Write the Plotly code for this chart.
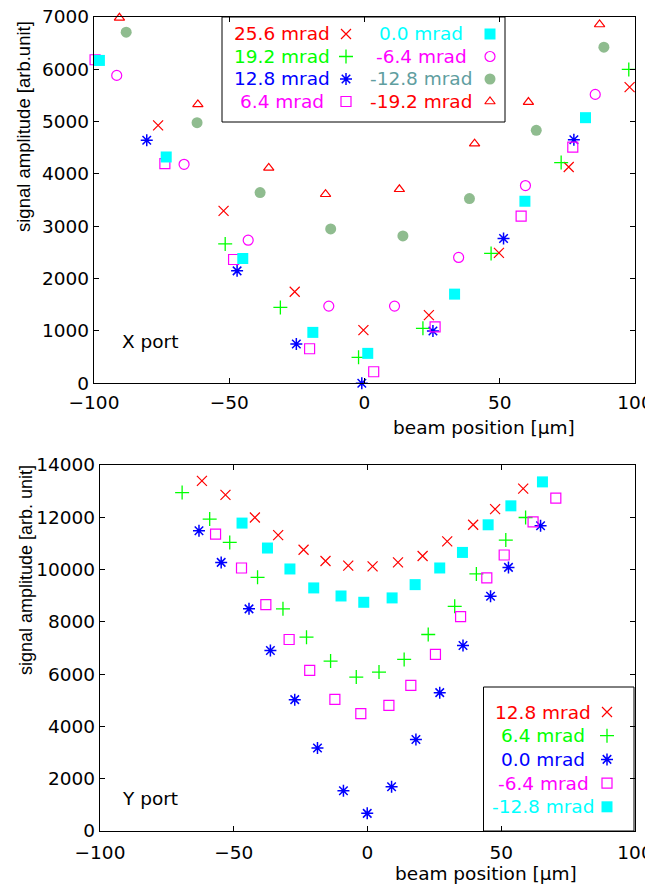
import plotly.graph_objects as go

# page has an 8px body margin; the figure fills the rest of the 653x886 window
OFF = 8
W, H = 653 - OFF, 886 - OFF

# ---------------- X port data ----------------
x_labels = ["25.6 mrad", "19.2 mrad", "12.8 mrad", "6.4 mrad",
            "0.0 mrad", "-6.4 mrad", "-12.8 mrad", "-19.2 mrad"]

xp_256_x = [-76.3, -52.1, -25.8, -0.4, 23.8, 49.7, 75.5, 98.0]
xp_256_y = [4930, 3295, 1750, 1017, 1303, 2493, 4134, 5660]

xp_192_x = [-51.5, -31.1, -2.2, 21.6, 46.8, 72.7, 97.7]
xp_192_y = [2664, 1450, 496, 1050, 2481, 4218, 5998]

xp_128_x = [-80.5, -47.1, -25.2, -1.0, 25.3, 51.4, 77.4]
xp_128_y = [4643, 2149, 750, 0, 998, 2767, 4656]

xp_64_x = [-99.6, -73.8, -48.4, -20.3, 3.4, 26.1, 57.9, 77.0]
xp_64_y = [6183, 4198, 2366, 660, 221, 1080, 3193, 4515]

xp_00_x = [-98.0, -73.3, -45.0, -19.1, 1.2, 33.3, 59.3, 81.7]
xp_00_y = [6170, 4325, 2385, 973, 572, 1704, 3479, 5076]

xp_m64_x = [-91.6, -66.7, -43.0, -13.2, 11.1, 34.8, 59.5, 85.3]
xp_m64_y = [5884, 4185, 2735, 1475, 1475, 2405, 3779, 5521]

xp_m128_x = [-88.1, -61.9, -38.6, -12.5, 14.2, 38.8, 63.5, 88.5]
xp_m128_y = [6710, 4981, 3645, 2950, 2817, 3531, 4834, 6424]

xp_m192_x = [-90.6, -61.6, -35.4, -14.4, 12.9, 40.7, 60.6, 86.9]
xp_m192_y = [6985, 5330, 4115, 3613, 3708, 4580, 5374, 6857]

# ---------------- Y port data ----------------
y_labels = ["12.8 mrad", "6.4 mrad", "0.0 mrad", "-6.4 mrad", "-12.8 mrad"]

yp_128_x = [-61.9, -53.1, -42.1, -33.4, -23.9, -15.7, -7.2, 1.9, 11.4, 20.6, 29.8, 39.5, 47.7, 58.2]
yp_128_y = [13392, 12857, 11992, 11320, 10759, 10328, 10149, 10122, 10275, 10519, 11076, 11713, 12312, 13098]

yp_64_x = [-69.3, -59.0, -51.5, -41.1, -31.6, -22.8, -13.8, -4.2, 4.3, 13.7, 22.7, 32.6, 40.7, 51.7, 59.1]
yp_64_y = [12946, 11930, 11038, 9703, 8497, 7413, 6498, 5887, 6078, 6562, 7516, 8596, 9832, 11129, 11992]

yp_00_x = [-63.0, -54.7, -44.3, -36.3, -27.2, -18.7, -9.0, -0.1, 9.0, 18.1, 27.0, 35.7, 46.0, 52.7, 64.7]
yp_00_y = [11484, 10275, 8497, 6906, 5025, 3178, 1538, 675, 1690, 3498, 5292, 7097, 8978, 10084, 11675]

yp_m64_x = [-56.8, -47.1, -38.0, -29.3, -21.6, -12.2, -2.5, 8.0, 16.2, 25.4, 34.8, 44.6, 51.1, 61.9, 70.4]
yp_m64_y = [11358, 10061, 8661, 7325, 6143, 5036, 4490, 4807, 5570, 6753, 8203, 9680, 10557, 11828, 12731]

yp_m128_x = [-46.9, -37.4, -29.0, -20.1, -9.9, -1.4, 9.2, 17.8, 27.0, 35.5, 45.1, 53.6, 65.4]
yp_m128_y = [11778, 10824, 10023, 9298, 8990, 8749, 8916, 9424, 10061, 10656, 11713, 12438, 13354]

x_ticks = [-100, -50, 0, 50, 100]
top_y_ticks = [0, 1000, 2000, 3000, 4000, 5000, 6000, 7000]
bot_y_ticks = [0, 2000, 4000, 6000, 8000, 10000, 12000, 14000]

# ---------------- styles ----------------
RED, GREEN, BLUE, MAG, CYAN = "#ff0000", "#00ff00", "#0000ff", "#ff00ff", "#00ffff"
SEAG = "#8fbc8f"
CADET = "#5f9ea0"
FONT = "DejaVu Sans"

top_series = [
    (xp_256_x, xp_256_y, dict(symbol="x-thin-open", size=10, color=RED, line=dict(color=RED, width=1.2)), RED),
    (xp_192_x, xp_192_y, dict(symbol="cross-thin-open", size=10, color=GREEN, line=dict(color=GREEN, width=1.3)), GREEN),
    (xp_128_x, xp_128_y, dict(symbol="asterisk-open", size=10, color=BLUE, line=dict(color=BLUE, width=1.5)), BLUE),
    (xp_64_x, xp_64_y, dict(symbol="square-open", size=10, color=MAG, line=dict(color=MAG, width=1.2)), MAG),
    (xp_00_x, xp_00_y, dict(symbol="square", size=11, color=CYAN, line=dict(width=0)), CYAN),
    (xp_m64_x, xp_m64_y, dict(symbol="circle-open", size=10, color=MAG, line=dict(color=MAG, width=1.2)), MAG),
    (xp_m128_x, xp_m128_y, dict(symbol="circle", size=11, color=SEAG, line=dict(width=0)), CADET),
    (xp_m192_x, xp_m192_y, dict(symbol="triangle-up-open", size=9, color=RED, line=dict(color=RED, width=1.2)), RED),
]

bot_series = [
    (yp_128_x, yp_128_y, dict(symbol="x-thin-open", size=10, color=RED, line=dict(color=RED, width=1.2)), RED),
    (yp_64_x, yp_64_y, dict(symbol="cross-thin-open", size=10, color=GREEN, line=dict(color=GREEN, width=1.3)), GREEN),
    (yp_00_x, yp_00_y, dict(symbol="asterisk-open", size=10, color=BLUE, line=dict(color=BLUE, width=1.5)), BLUE),
    (yp_m64_x, yp_m64_y, dict(symbol="square-open", size=10, color=MAG, line=dict(color=MAG, width=1.2)), MAG),
    (yp_m128_x, yp_m128_y, dict(symbol="square", size=11, color=CYAN, line=dict(width=0)), CYAN),
]

fig = go.Figure()

for (xs, ys, mk, _), name in zip(top_series, x_labels):
    fig.add_trace(go.Scatter(x=xs, y=ys, mode="markers", marker=mk, name=name,
                             xaxis="x", yaxis="y", cliponaxis=False, showlegend=False))
for (xs, ys, mk, _), name in zip(bot_series, y_labels):
    fig.add_trace(go.Scatter(x=xs, y=ys, mode="markers", marker=mk, name=name,
                             xaxis="x2", yaxis="y2", cliponaxis=False, showlegend=False))


# window-pixel -> paper coordinates
def px(x):
    return (x - OFF) / W


def py(y):
    return 1 - (y - OFF) / H


annotations = []
shapes = []


def add_leg_item(label, color, mk, tx, mx, y):
    annotations.append(dict(text=label, x=px(tx), y=py(y), xref="paper", yref="paper",
                            xanchor="center", yanchor="middle", showarrow=False,
                            font=dict(family=FONT, size=18.5, color=color)))
    fig.add_trace(go.Scatter(x=[mx], y=[y], mode="markers", marker=mk, xaxis="x3", yaxis="y3",
                             cliponaxis=False, showlegend=False, hoverinfo="skip"))


for i, ((_, _, mk, tcol), label) in enumerate(zip(top_series, x_labels)):
    col, row = divmod(i, 4)
    ty = 34 + 22.5 * row
    if col == 0:
        add_leg_item(label, tcol, mk, 282, 346, ty)
    else:
        add_leg_item(label, tcol, mk, 421, 490, ty)

for i, ((_, _, mk, tcol), label) in enumerate(zip(bot_series, y_labels)):
    ty = 712 + 23.7 * i
    add_leg_item(label, tcol, mk, 543, 607, ty)

shapes.append(dict(type="rect", xref="paper", yref="paper", x0=px(222), x1=px(505),
                   y0=py(122), y1=py(17), line=dict(color="black", width=1)))
shapes.append(dict(type="rect", xref="paper", yref="paper", x0=px(483.5), x1=px(634),
                   y0=py(831), y1=py(687), line=dict(color="black", width=1)))

annotations += [
    dict(text="beam position [µm]", x=px(484), y=py(428), xref="paper", yref="paper",
         showarrow=False, xanchor="center", yanchor="middle",
         font=dict(family=FONT, size=18.5, color="black")),
    dict(text="beam position [µm]", x=px(486), y=py(873), xref="paper", yref="paper",
         showarrow=False, xanchor="center", yanchor="middle",
         font=dict(family=FONT, size=18.5, color="black")),
    dict(text="signal amplitude [arb.unit]", x=px(23), y=py(127), xref="paper", yref="paper",
         showarrow=False, textangle=-90, xanchor="center", yanchor="middle",
         font=dict(family="Liberation Sans", size=18.5, color="black")),
    dict(text="signal amplitude [arb. unit]", x=px(26), y=py(570), xref="paper", yref="paper",
         showarrow=False, textangle=-90, xanchor="center", yanchor="middle",
         font=dict(family="Liberation Sans", size=18, color="black")),
    dict(text="X port", x=px(120), y=py(342), xref="paper", yref="paper",
         showarrow=False, xanchor="left", yanchor="middle",
         font=dict(family=FONT, size=18.5, color="black")),
    dict(text="Y port", x=px(120), y=py(798), xref="paper", yref="paper",
         showarrow=False, xanchor="left", yanchor="middle",
         font=dict(family=FONT, size=18.5, color="black")),
]

axis_common = dict(showline=True, linecolor="black", linewidth=1.3, mirror="ticks",
                   ticks="inside", ticklen=5, tickwidth=1, tickcolor="black",
                   showgrid=False, zeroline=False, automargin=False, tickformat="d",
                   ticklabeloverflow="allow",
                   tickfont=dict(family=FONT, size=18.5, color="black"))

fig.update_layout(
    width=W, height=H,
    margin=dict(l=0, r=0, t=0, b=0, autoexpand=False),
    paper_bgcolor="white", plot_bgcolor="rgba(0,0,0,0)",
    showlegend=False,
    xaxis=dict(domain=[px(94), px(635)], range=[-100, 100], tickvals=x_ticks,
               anchor="y", ticklabelstandoff=2, **axis_common),
    yaxis=dict(domain=[py(383.3), py(17)], range=[0, 7000], tickvals=top_y_ticks,
               anchor="x", **axis_common),
    xaxis2=dict(domain=[px(100), px(635)], range=[-100, 100], tickvals=x_ticks,
                anchor="y2", ticklabelstandoff=5, **axis_common),
    yaxis2=dict(domain=[py(831), py(465)], range=[0, 14000], tickvals=bot_y_ticks,
                anchor="x2", **axis_common),
    xaxis3=dict(domain=[0, 1], range=[OFF, 653], visible=False, anchor="y3", fixedrange=True),
    yaxis3=dict(domain=[0, 1], range=[886, OFF], visible=False, anchor="x3", fixedrange=True),
    annotations=annotations,
    shapes=shapes,
)

fig.write_html("out.html")
